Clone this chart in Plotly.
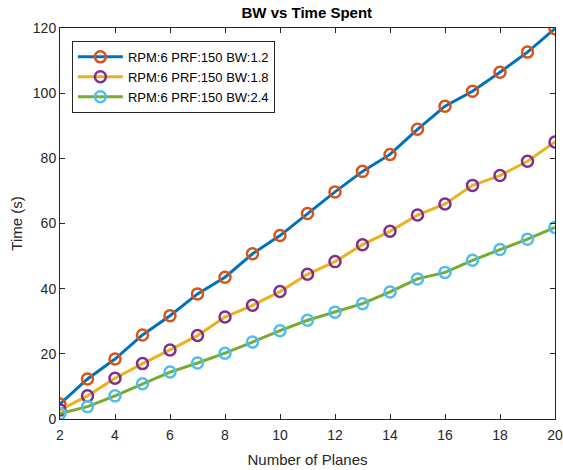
import plotly.graph_objects as go

planes = list(range(2, 21))
bw_12 = [4.6, 12.3, 18.4, 25.8, 31.7, 38.4, 43.5, 50.7, 56.3, 63.1, 69.7, 76.0, 81.2, 88.9, 96.0, 100.6, 106.4, 112.6, 119.8]
bw_18 = [2.8, 7.1, 12.5, 17.0, 21.2, 25.6, 31.3, 34.9, 39.1, 44.4, 48.3, 53.5, 57.6, 62.6, 66.0, 71.7, 74.7, 79.1, 85.0]
bw_24 = [1.7, 3.8, 7.1, 10.8, 14.4, 17.2, 20.2, 23.6, 27.1, 30.3, 32.8, 35.4, 39.0, 43.0, 45.0, 48.7, 52.0, 55.2, 58.8]
names = ["RPM:6 PRF:150 BW:1.2", "RPM:6 PRF:150 BW:1.8", "RPM:6 PRF:150 BW:2.4"]
x_ticks = list(range(2, 21, 2))
y_ticks = list(range(0, 121, 20))

line_colors = ["#0072BD", "#EDB120", "#77AC30"]
marker_colors = ["#D95319", "#7E2F8E", "#4DBEEE"]

fig = go.Figure()
for ys, nm, lc, mc in zip([bw_12, bw_18, bw_24], names, line_colors, marker_colors):
    fig.add_trace(go.Scatter(
        x=planes, y=ys, name=nm, mode="lines+markers",
        line=dict(color=lc, width=3),
        marker=dict(symbol="circle-open", color=mc, size=11, line=dict(width=2.5)),
    ))

font_family = "Liberation Sans, Arial, sans-serif"
axis_common = dict(
    showline=True, mirror="ticks", linecolor="#262626", linewidth=1,
    ticks="inside", ticklen=5, tickcolor="#262626", showgrid=False, zeroline=False,
    automargin=False,
    tickfont=dict(family=font_family, size=14, color="#262626"),
)

fig.update_layout(
    width=563, height=470,
    margin=dict(l=60, r=8, t=28, b=51),
    paper_bgcolor="white", plot_bgcolor="white",
    title=dict(text="<b>BW vs Time Spent</b>", x=0.545, xanchor="center",
               y=0.972, yanchor="middle",
               font=dict(family=font_family, size=15, color="black")),
    xaxis=dict(range=[2, 20], tickvals=x_ticks, ticklabelstandoff=3,
               title=dict(text="Number of Planes", font=dict(family=font_family, size=15, color="#262626"), standoff=12),
               **axis_common),
    yaxis=dict(range=[0, 120], tickvals=y_ticks,
               title=dict(text="Time (s)", font=dict(family=font_family, size=15, color="#262626"), standoff=6),
               **axis_common),
    legend=dict(x=0.024, y=0.967, xanchor="left", yanchor="top",
                bgcolor="white", bordercolor="#262626", borderwidth=1,
                font=dict(family=font_family, size=13, color="black"),
                tracegroupgap=0, itemwidth=45),
    showlegend=True,
)

fig.write_html("out.html")
